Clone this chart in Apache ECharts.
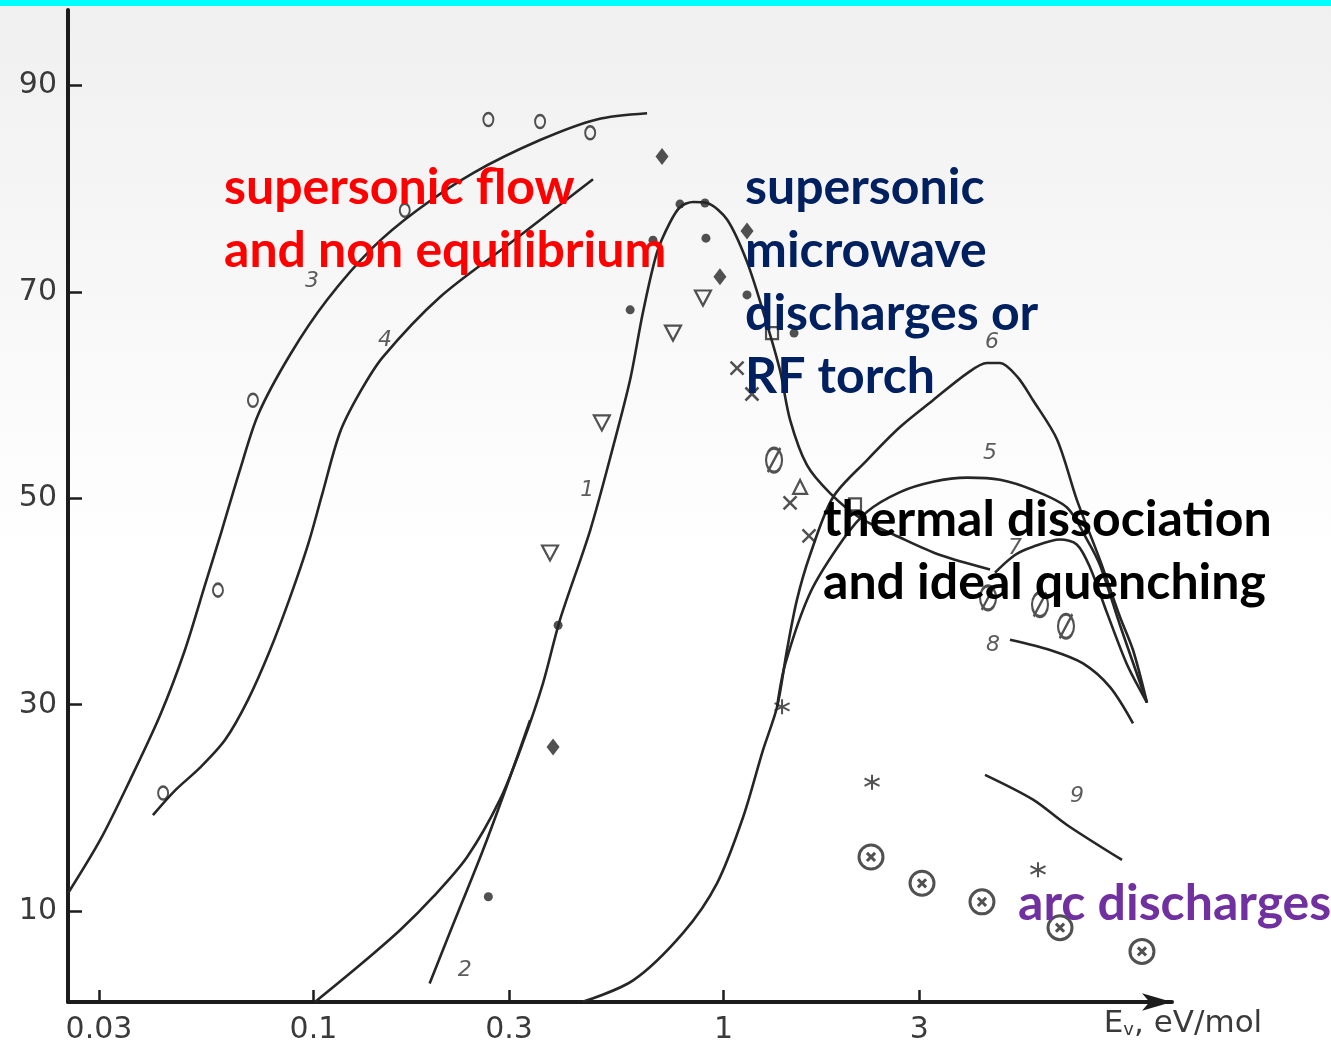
<!DOCTYPE html>
<html><head><meta charset="utf-8">
<script src="https://cdn.jsdelivr.net/npm/echarts@6/dist/echarts.min.js"></script>
<style>
html,body{margin:0;padding:0;}
#c{width:1331px;height:1046px;background:linear-gradient(to bottom,#00ffff 0,#00ffff 6px,#f0f0f0 6px,#f5f5f5 200px,#fbfbfb 420px,#ffffff 560px);}
</style></head><body><div id="c"></div>
<script>
// ---- axis ticks ----
const xTickValues = [0.03, 0.1, 0.3, 1, 3];
const yTickValues = [10, 30, 50, 70, 90];

// ---- curves (E in eV/mol, efficiency in %) ----
const curve1E = [0.1009,0.130,0.163,0.196,0.237,0.285,0.324,0.363,0.399,0.473,0.538,0.592,0.636,0.688,0.740,0.783,0.843,0.912,1.020,1.141,1.262,1.373,1.453,1.598,1.818,2.152,2.694,3.373,4.465];
const curve1Eff = [1.2,4.8,8.2,11.4,15.25,20.8,26.3,32.1,38.2,46.9,55.0,61.5,68.0,73.8,76.7,78.2,78.7,78.6,77.0,72.9,67.5,62.4,57.6,53.2,50.5,48.1,46.2,44.5,43.1];
const curve2E = [0.192,0.215,0.259,0.3016,0.3375];
const curve2Eff = [3.0,7.9,15.9,23.0,28.5];
const curve3E = [0.02523,0.0302,0.0357,0.0423,0.0486,0.0544,0.0598,0.0662,0.0733,0.0877,0.1079,0.1397,0.179,0.245,0.357,0.491,0.651];
const curve3Eff = [11.76,16.9,22.7,29.0,35.3,41.6,46.9,52.75,58.1,63.9,69.2,74.3,77.9,81.5,84.7,86.7,87.3];
const curve4E = [0.0406,0.0460,0.0529,0.0609,0.0693,0.0784,0.0877,0.0970,0.1049,0.1161,0.130,0.1478,0.2036,0.3016,0.4806];
const curve4Eff = [19.3,21.7,23.9,26.6,30.5,35.3,40.4,45.5,50.3,56.4,60.3,63.7,69.5,74.7,80.9];
const curve5E = [1.351,1.413,1.625,1.956,2.239,2.694,3.243,3.925,4.723,5.685,6.880,7.697,8.282,9.265,10.78];
const curve5Eff = [29.8,33.9,40.8,46.0,48.7,50.6,51.6,52.0,51.8,50.8,49.1,46.0,43.5,37.7,30.2];
const curve6E = [0.452,0.602,0.797,0.964,1.116,1.248,1.351,1.428,1.511,1.625,1.849,2.239,2.694,3.243,3.925,4.390,4.723,5.196,5.685,6.505,7.278,8.282,9.265,9.966,10.78];
const curve6Eff = [1.2,3.3,7.9,12.7,19.1,25.6,29.8,35.3,40.2,44.5,50.1,53.7,56.9,59.5,62.1,63.1,63.1,61.8,59.5,55.7,49.8,44.0,38.5,35.3,30.2];
const curve7E = [4.592,5.138,5.685,6.615,7.278,7.830,8.612,9.636,10.78];
const curve7Eff = [42.8,44.5,45.3,46.0,45.5,43.3,38.9,33.9,30.2];
const curve8E = [4.995,6.254,7.526,8.760,9.966];
const curve8Eff = [36.3,35.3,34.0,31.7,28.2];
const curve9E = [4.341,5.685,6.880,9.370];
const curve9Eff = [23.2,20.8,18.35,14.96];

// ---- experimental points ----
const openCircleE = [0.0430,0.0585,0.0712,0.167,0.267,0.357,0.473];
const openCircleEff = [21.45,41.1,59.5,77.9,86.7,86.5,85.4];
const diamondE = [0.708,0.384,0.980,1.141];
const diamondEff = [83.1,25.9,71.45,75.9];
const dotE = [0.783,0.901,0.906,0.592,0.673,0.267,0.395,1.141,1.486];
const dotEff = [78.5,78.6,75.2,68.25,75.0,11.4,37.7,69.7,66.0];
const triDownE = [0.505,0.3775,0.753,0.891];
const triDownEff = [57.3,44.7,66.0,69.4];
const triUpE = [1.537];
const triUpEff = [51.1];
const crossE = [1.079,1.173,1.453,1.616];
const crossEff = [62.6,60.1,49.55,46.35];
const slashCircleE = [1.328,4.416,5.912,6.841];
const slashCircleEff = [53.7,40.35,39.7,37.6];
const squareE = [1.313,2.092];
const squareEff = [66.0,49.4];
const starE = [1.389,2.302,5.846];
const starEff = [29.8,22.5,14.0];
const otimesE = [2.289,3.048,4.268,6.615,10.48];
const otimesEff = [15.25,12.7,10.9,8.4,6.1];

// ---- curve number labels ----
const curveLabelNames = ['1','2','3','4','5','6','7','8','9'];
const curveLabelE = [0.465,0.234,0.0992,0.1495,4.465,4.515,5.138,4.541,7.278];
const curveLabelEff = [50.8,4.3,71.0,65.3,54.4,65.1,45.2,35.8,21.1];

const lg = v => Math.log10(v);
const pts = (E, Y) => E.map((e, i) => [lg(e), Y[i]]);
const INK = '#262626';

const curves = [
  [curve1E, curve1Eff],[curve2E, curve2Eff],[curve3E, curve3Eff],[curve4E, curve4Eff],
  [curve5E, curve5Eff],[curve6E, curve6Eff],[curve7E, curve7Eff],[curve8E, curve8Eff],[curve9E, curve9Eff]
];
const series = curves.map(([E, Y]) => ({
  type: 'line', data: pts(E, Y), smooth: 0.3, symbol: 'none', silent: true, z: 3,
  lineStyle: { color: INK, width: 2.6 }
}));

const RING = 'M5,0A5,5 0 1 1 5,10A5,5 0 1 1 5,0Z';
function markers(E, Y, symbol, size, opts) {
  opts = opts || {};
  return {
    type: 'scatter', data: pts(E, Y), symbol: symbol, symbolSize: size, silent: true, z: 4,
    itemStyle: opts.filled ? { color: INK } :
      { color: 'rgba(255,255,255,0)', borderColor: INK, borderWidth: opts.bw || 2.2 }
  };
}
series.push(markers(openCircleE, openCircleEff, 'path://' + RING, [10, 13]));
series.push(markers(diamondE, diamondEff, 'diamond', [13, 17], { filled: true }));
series.push(markers(dotE, dotEff, 'circle', 9, { filled: true }));
series.push(markers(triDownE, triDownEff, 'path://M0,0L10,0L5,9Z', [16, 15]));
series.push(markers(triUpE, triUpEff, 'path://M5,0L10,9L0,9Z', [14, 14]));
series.push(markers(crossE, crossEff, 'path://M0,0L10,10M10,0L0,10', 13, { bw: 2.5 }));
series.push(markers(slashCircleE, slashCircleEff, 'path://' + RING + 'M1,10L9,0', [16, 24], { bw: 2.6 }));
series.push(markers(squareE, squareEff, 'path://M0,0L10,0L10,10L0,10Z', 12));
series.push(markers(starE, starEff, 'path://M5,0L5,10M0.7,2.5L9.3,7.5M0.7,7.5L9.3,2.5', 15, { bw: 2 }));
series.push(markers(otimesE, otimesEff, 'path://' + RING + 'M3.3,3.3L6.7,6.7M6.7,3.3L3.3,6.7', 24, { bw: 3 }));

series.push({
  type: 'scatter', silent: true, z: 5, symbolSize: 1,
  itemStyle: { color: 'rgba(0,0,0,0)' },
  data: curveLabelNames.map((n, i) => ({ name: n, value: [lg(curveLabelE[i]), curveLabelEff[i]] })),
  label: { show: true, position: 'inside', formatter: '{b}', fontSize: 22, fontStyle: 'italic',
           fontFamily: 'DejaVu Sans', color: '#333' }
});

const labelFont = { fontFamily: 'DejaVu Sans', fontSize: 30, color: '#3a3a3a' };
const chart = echarts.init(document.getElementById('c'), null, { renderer: 'canvas' });
chart.setOption({
  animation: false,
  backgroundColor: 'transparent',
  grid: { left: 68, right: 159, top: 10, bottom: 44, containLabel: false, outerBoundsMode: 'none' },
  xAxis: {
    type: 'value', min: -1.5985, max: 1.0936,
    splitLine: { show: false },
    axisLine: { onZero: false, lineStyle: { color: '#1c1c1c', width: 4 }, symbol: ['none', 'arrow'], symbolSize: [13, 30] },
    axisTick: { inside: true, length: 12, lineStyle: { color: '#1c1c1c', width: 2.5 },
                customValues: xTickValues.map(lg) },
    axisLabel: Object.assign({ margin: 13, customValues: xTickValues.map(lg),
      formatter: v => String(parseFloat(Math.pow(10, v).toPrecision(2))) }, labelFont),
    name: '{e|E}{v|v}{e|, eV/mol}', nameLocation: 'end', nameGap: 11,
    nameTextStyle: { align: 'center', verticalAlign: 'top', padding: [6, 0, 0, 0],
      rich: { e: { fontFamily: 'DejaVu Sans', fontSize: 31, color: '#3a3a3a' },
              v: { fontFamily: 'DejaVu Sans', fontSize: 18, color: '#3a3a3a', verticalAlign: 'bottom', padding: [8, 0, 0, 0] } } }
  },
  yAxis: {
    type: 'value', min: 1.2, max: 97.3,
    splitLine: { show: false },
    axisLine: { show: true, onZero: false, lineStyle: { color: '#1c1c1c', width: 4 } },
    axisTick: { inside: true, length: 14, lineStyle: { color: '#1c1c1c', width: 2.5 }, customValues: yTickValues },
    axisLabel: Object.assign({ margin: 11, customValues: yTickValues }, labelFont)
  },
  graphic: [
    { type: 'text', left: 224, top: 156, z: 100, silent: true,
      style: { text: 'supersonic flow\nand non equilibrium', fill: '#ff0000', fontFamily: 'Lato', fontWeight: 'bold', fontSize: 50, lineHeight: 63 } },
    { type: 'text', left: 745, top: 156, z: 100, silent: true,
      style: { text: 'supersonic\nmicrowave\ndischarges or\nRF torch', fill: '#002060', fontFamily: 'Lato', fontWeight: 'bold', fontSize: 50, lineHeight: 63 } },
    { type: 'text', left: 823, top: 488, z: 100, silent: true,
      style: { text: 'thermal dissociation\nand ideal quenching', fill: '#000000', fontFamily: 'Lato', fontWeight: 'bold', fontSize: 50, lineHeight: 63 } },
    { type: 'text', left: 1018, top: 872, z: 100, silent: true,
      style: { text: 'arc discharges', fill: '#7030a0', fontFamily: 'Lato', fontWeight: 'bold', fontSize: 50, lineHeight: 63 } }
  ],
  series: series
});
</script></body></html>
